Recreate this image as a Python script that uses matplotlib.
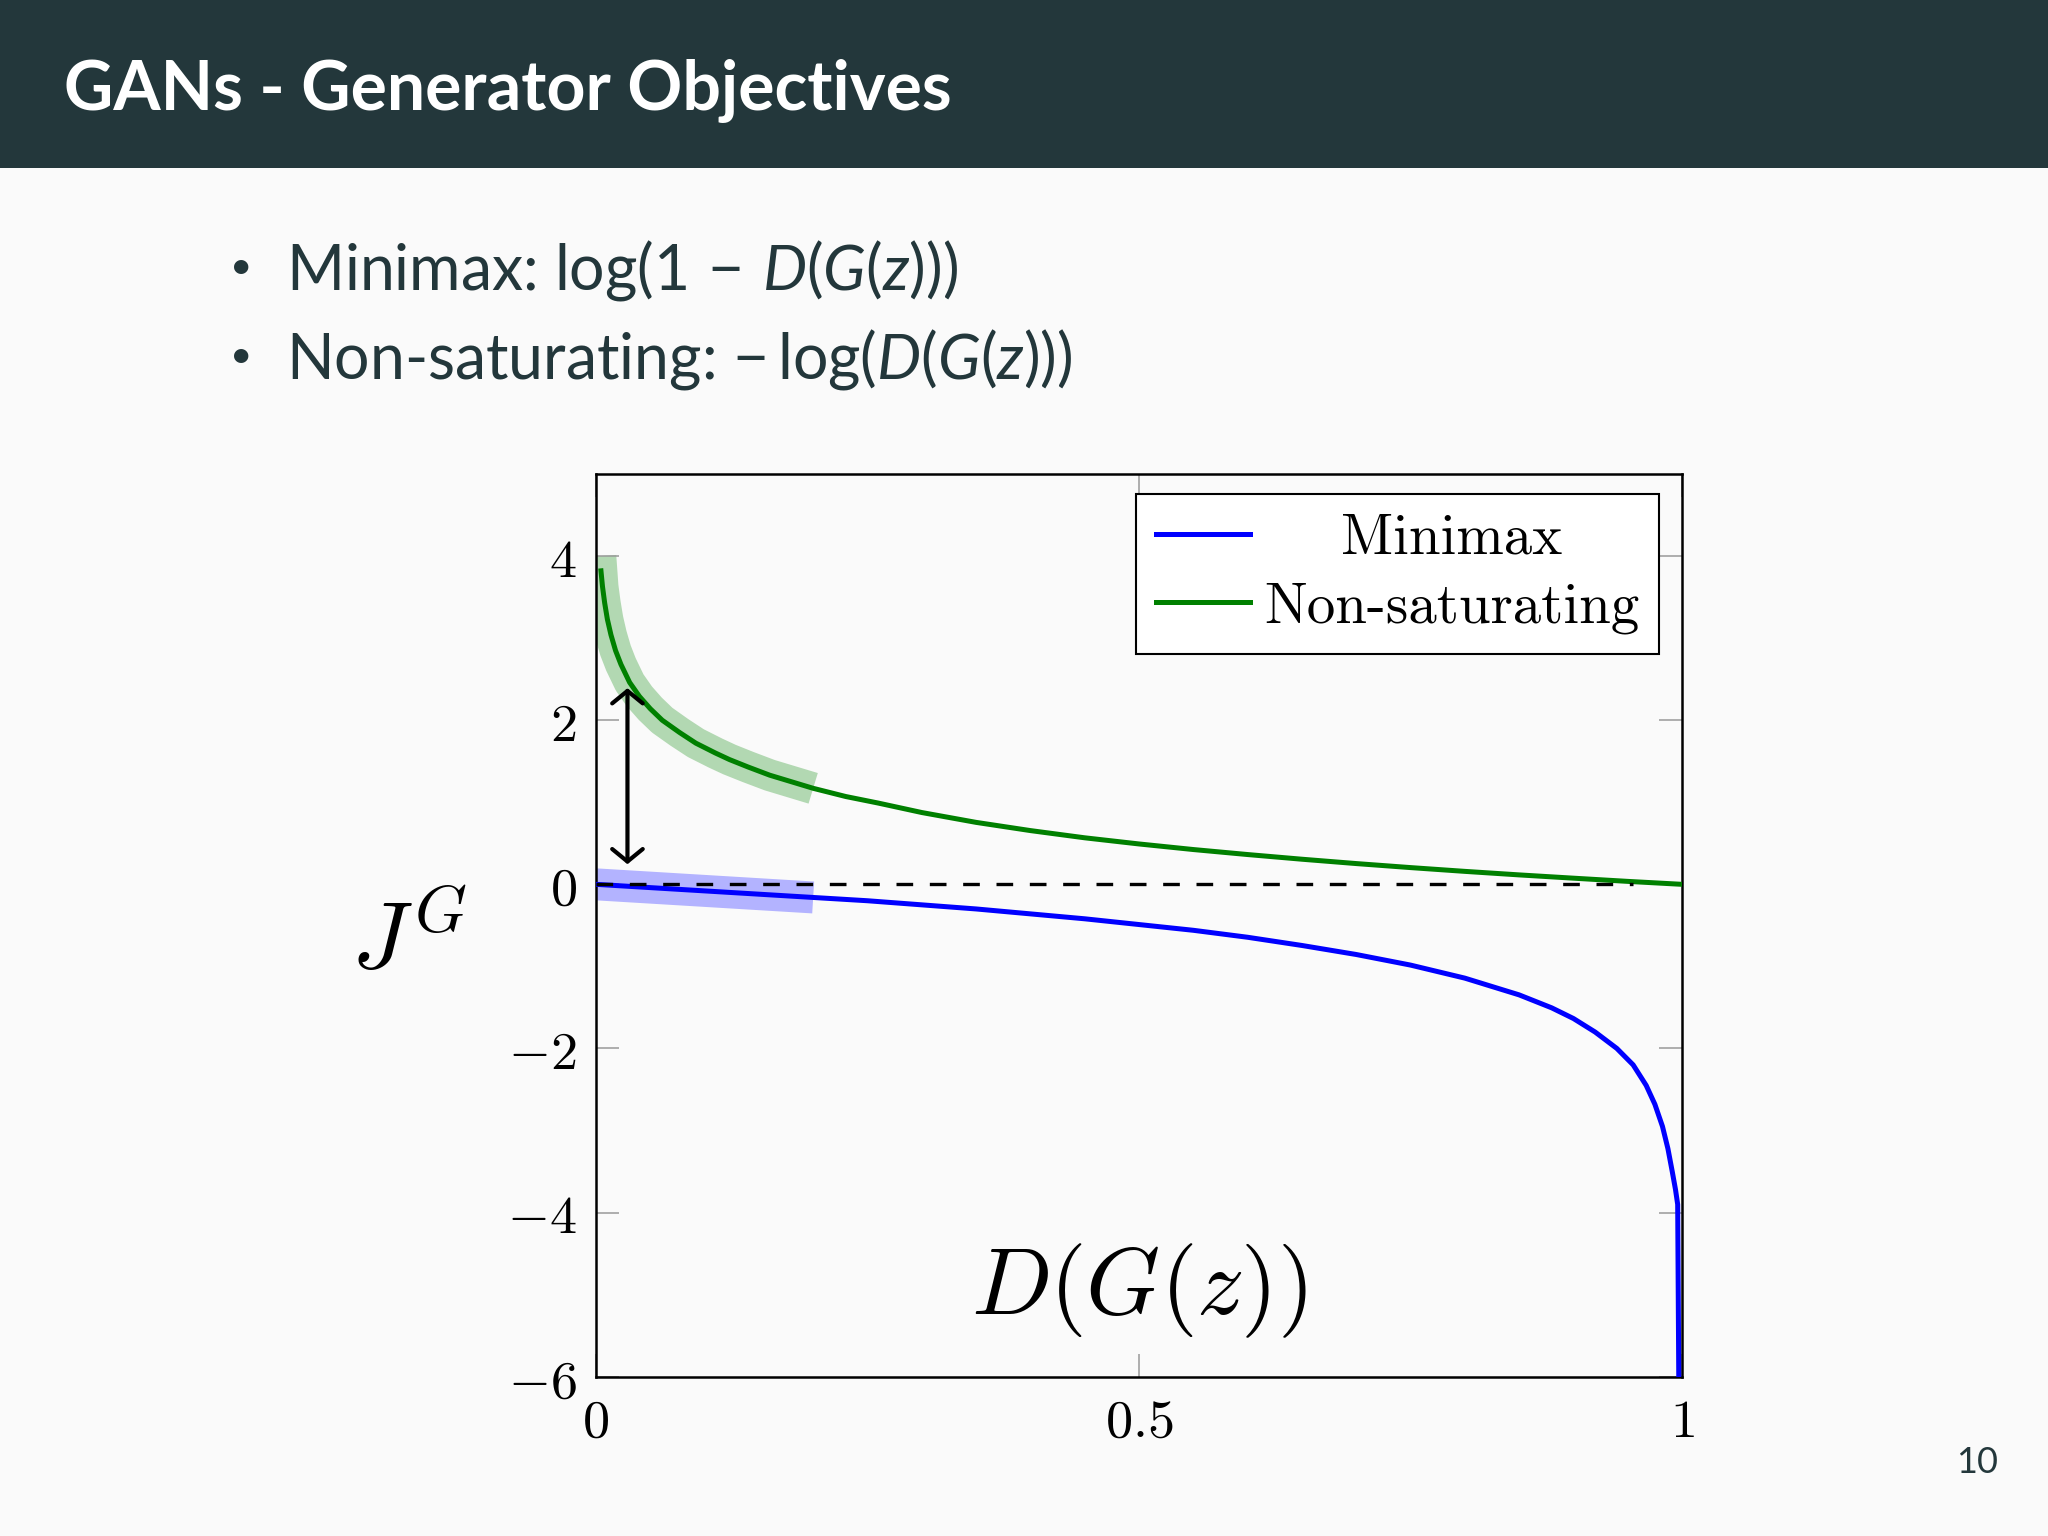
import matplotlib.pyplot as plt
from matplotlib.patches import Rectangle
from matplotlib.transforms import Affine2D

plt.rcParams['mathtext.fontset'] = 'cm'
plt.rcParams['mathtext.rm'] = 'Lato'
plt.rcParams['mathtext.it'] = 'Lato:italic'

# values
ns_x = [0.0046, 0.006, 0.008, 0.0105, 0.0138, 0.018, 0.023, 0.031, 0.04, 0.05,
        0.061, 0.077, 0.092, 0.11, 0.123, 0.14, 0.16, 0.18, 0.2, 0.23,
        0.26, 0.3, 0.35, 0.4, 0.45, 0.5, 0.55, 0.6, 0.65, 0.7,
        0.75, 0.8, 0.85, 0.9, 0.95, 1.0]
ns_y = [3.82, 3.63, 3.43, 3.23, 3.04, 2.85, 2.68, 2.46, 2.29, 2.14,
        2.00, 1.85, 1.72, 1.60, 1.52, 1.43, 1.33, 1.25, 1.17, 1.07,
        0.99, 0.875, 0.755, 0.655, 0.567, 0.492, 0.424, 0.363, 0.306, 0.253,
        0.204, 0.158, 0.115, 0.075, 0.036, 0.0]

mm_x = [0.0, 0.05, 0.1, 0.15, 0.2, 0.25, 0.3, 0.35, 0.4, 0.45,
        0.5, 0.55, 0.6, 0.65, 0.7, 0.75, 0.8, 0.85, 0.88, 0.9,
        0.92, 0.94, 0.955, 0.967, 0.975, 0.982, 0.987, 0.991, 0.994, 0.996,
        0.997]
mm_y = [0.0, -0.04, -0.08, -0.12, -0.16, -0.20, -0.25, -0.30, -0.36, -0.42,
        -0.49, -0.56, -0.645, -0.745, -0.855, -0.984, -1.143, -1.347, -1.505, -1.635,
        -1.80, -2.00, -2.20, -2.45, -2.68, -2.95, -3.22, -3.50, -3.72, -3.90,
        -6.0]

# highlighted stretches (D(G(z)) small)
ns_band_x = [0.004, 0.006, 0.008, 0.0105, 0.0138, 0.018, 0.023, 0.031, 0.04, 0.05,
             0.061, 0.077, 0.092, 0.11, 0.123, 0.14, 0.16, 0.18, 0.2]
ns_band_y = [4.0, 3.63, 3.43, 3.23, 3.04, 2.85, 2.68, 2.46, 2.29, 2.14,
             2.00, 1.85, 1.72, 1.60, 1.52, 1.43, 1.33, 1.25, 1.17]
mm_band_x = [0.0, 0.05, 0.1, 0.15, 0.2]
mm_band_y = [0.0, -0.04, -0.08, -0.12, -0.16]

zero_x = [0.0, 0.955]
zero_y = [0.0, 0.0]

gap_x = 0.029
gap_low = 0.245
gap_high = 2.39

x_ticks = [0, 0.5, 1]
x_tick_labels = ['$0$', '$0.5$', '$1$']
y_ticks = [-6, -4, -2, 0, 2, 4]
y_tick_labels = ['$-6$', '$-4$', '$-2$', '$0$', '$2$', '$4$']

bg = '#FAFAFA'
dark = '#23373B'

fig = plt.figure(figsize=(20.48, 15.36), dpi=100, facecolor=bg)

# title bar
fig.add_artist(Rectangle((0, 0.8906), 1, 0.1094, transform=fig.transFigure,
                         facecolor=dark, edgecolor='none', zorder=0))
fig.text(0.0312, 0.9286, 'GANs - Generator Objectives', color='white',
         fontsize=49, fontweight='bold', family='Lato', va='baseline')

# bullets
bullets = [r'Minimax: $\log(1\,-\,D(G(z)))$',
           r'Non-saturating: $-\,\log(D(G(z)))$']
for i, txt in enumerate(bullets):
    yb = 0.8112 - i * 0.0579
    fig.text(0.118, yb + 0.008, '\u2022', color=dark, fontsize=28,
             family='Lato', ha='center', va='baseline')
    fig.text(0.1396, yb, txt, color=dark, fontsize=45, family='Lato',
             va='baseline', math_fontfamily='custom')

fig.text(0.9756, 1 - 1473 / 1536, '10', color=dark, fontsize=26,
         family='Lato', ha='right', va='baseline')

# plot
ax = fig.add_axes([0.2910, 0.1037, 0.5303, 0.5877])
ax.set_facecolor(bg)

ax.plot(ns_band_x, ns_band_y, color='#b2d8b2', lw=23, solid_capstyle='butt',
        solid_joinstyle='round', zorder=1)
ax.plot(mm_band_x, mm_band_y, color='#b3b3ff', lw=23, solid_capstyle='butt',
        solid_joinstyle='round', zorder=1)
ax.plot(mm_x, mm_y, color='#0000ff', lw=3.6, solid_joinstyle='round',
        label='Minimax', zorder=3)
ax.plot(ns_x, ns_y, color='#008000', lw=3.6, solid_joinstyle='round',
        label='Non-saturating', zorder=3)
ax.plot(zero_x, zero_y, color='black', ls=(0, (5, 5)), lw=2.4, zorder=4)

ax.annotate('', xy=(gap_x, gap_high), xytext=(gap_x, gap_low),
            arrowprops=dict(arrowstyle='<->,head_length=0.45,head_width=0.55',
                            lw=3, color='black', shrinkA=0, shrinkB=0,
                            mutation_scale=20),
            zorder=5)

ax.set_xlim(0, 1)
ax.set_ylim(-6, 5)
ax.set_xticks(x_ticks)
ax.set_xticklabels(x_tick_labels)
ax.set_yticks(y_ticks)
ax.set_yticklabels(y_tick_labels)
ax.tick_params(direction='in', length=16.5, width=1.1, color='#999999',
               top=True, right=True, pad=14, labelsize=39)
for s in ax.spines.values():
    s.set_linewidth(1.8)
    s.set_color('black')

ax.set_ylabel(r'$J^G$', fontsize=68, rotation=0, ha='center', va='center')
ax.yaxis.set_label_coords(-0.172, 0.481)
ax.text(0.5, -5.24, r'$D(G(z))$', fontsize=68, ha='center', va='baseline')

leg = ax.legend(loc='upper right', bbox_to_anchor=(0.979, 0.978),
                borderaxespad=0, prop={'family': 'cmr10', 'size': 41},
                fancybox=False, edgecolor='black', facecolor='white',
                framealpha=1, handlelength=1.65, handletextpad=0.25,
                borderpad=0.35, labelspacing=0.3)
leg.get_frame().set_linewidth(1.5)

# centre the shorter legend entry in its column, like the pgfplots legend
fig.canvas.draw()
r = fig.canvas.get_renderer()
texts = leg.get_texts()
widest = max(t.get_window_extent(r).width for t in texts)
for t in texts:
    dx = (widest - t.get_window_extent(r).width) / 2
    t.set_transform(t.get_transform() + Affine2D().translate(dx, 0))

fig.savefig('out.png', dpi=100, facecolor=bg)
